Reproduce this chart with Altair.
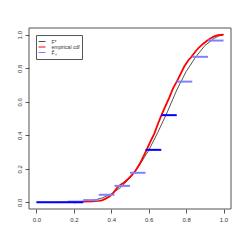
import altair as alt
import pandas as pd

# F* (smooth reference cdf)
fstar_x = [0.0, 0.1, 0.2, 0.25, 0.3, 0.35, 0.4, 0.45, 0.5, 0.55, 0.6, 0.65, 0.7, 0.75, 0.8, 0.85, 0.9, 0.95, 0.975, 1.0]
fstar_y = [0.0, 0.0, 0.001, 0.004, 0.011, 0.025, 0.05, 0.088, 0.145, 0.22, 0.31, 0.42, 0.54, 0.67, 0.78, 0.865, 0.935, 0.978, 0.992, 1.0]

# empirical cdf (red)
ecdf_x = [0.2, 0.25, 0.3, 0.33, 0.35, 0.37, 0.39, 0.41, 0.43, 0.45, 0.47, 0.49, 0.51, 0.53, 0.55, 0.57, 0.59,
          0.61, 0.63, 0.65, 0.67, 0.69, 0.71, 0.73, 0.75, 0.77, 0.79, 0.81, 0.83, 0.85, 0.87, 0.89, 0.91,
          0.93, 0.95, 0.97, 1.0]
ecdf_y = [0.0, 0.004, 0.006, 0.008, 0.012, 0.022, 0.035, 0.055, 0.085, 0.105, 0.12, 0.14, 0.162, 0.19, 0.225, 0.27, 0.316,
          0.365, 0.41, 0.47, 0.525, 0.575, 0.625, 0.68, 0.72, 0.765, 0.81, 0.845, 0.87, 0.9, 0.925, 0.945, 0.962,
          0.978, 0.99, 0.997, 1.0]

# F-hat_n step segments
seg_start = [0.0, 0.167, 0.25, 0.333, 0.417, 0.5, 0.583, 0.667, 0.75, 0.833, 0.917]
seg_end = [0.25, 0.25, 0.333, 0.417, 0.5, 0.583, 0.667, 0.75, 0.833, 0.917, 1.0]
seg_y = [0.0, 0.004, 0.013, 0.045, 0.098, 0.176, 0.313, 0.52, 0.72, 0.868, 0.965]
seg_dark = [True, False, False, False, False, False, True, True, False, False, False]

legend_labels = ["F*", "empirical cdf", "F\u0302\u2099"]
legend_colors = ["#555555", "#ff0000", "#8080ff"]
ticks = [0.0, 0.2, 0.4, 0.6, 0.8, 1.0]

# plot frame (axis range edges) and legend box, in axis units
lo, hi = -0.04, 1.04
box_x = [0.0, 0.246]
box_y = [0.852, 0.995]

W, H = 202, 181

fstar = pd.DataFrame({"x": fstar_x, "y": fstar_y})
ecdf = pd.DataFrame({"x": ecdf_x, "y": ecdf_y})
segs = pd.DataFrame({"x": seg_start, "x2": seg_end, "y": seg_y, "dark": seg_dark})

frame_pts = pd.DataFrame({
    "g": ["frame"] * 5 + ["legend"] * 5,
    "o": [0, 1, 2, 3, 4] * 2,
    "x": [lo, hi, hi, lo, lo, box_x[0], box_x[1], box_x[1], box_x[0], box_x[0]],
    "y": [lo, lo, hi, hi, lo, box_y[0], box_y[0], box_y[1], box_y[1], box_y[0]],
})
legbg_df = pd.DataFrame({"x": [box_x[0]], "x2": [box_x[1]], "y": [box_y[0]], "y2": [box_y[1]]})

xs = alt.Scale(domain=[lo, hi], nice=False, zero=False)
ys = alt.Scale(domain=[lo, hi], nice=False, zero=False)
xaxis = alt.Axis(values=ticks, format=".1f", title=None, grid=False, domain=False,
                 tickSize=4, tickColor="#555555", tickWidth=1, labelFontSize=6, labelColor="#333333",
                 labelPadding=3, labelFont="Liberation Sans")
yaxis = alt.Axis(values=ticks, format=".1f", title=None, grid=False, domain=False,
                 tickSize=4, tickColor="#555555", tickWidth=1, labelFontSize=6, labelColor="#333333",
                 labelPadding=3, labelAngle=270, labelAlign="center", labelBaseline="bottom",
                 labelFont="Liberation Sans")

X = lambda: alt.X("x:Q", scale=xs, axis=xaxis)
Y = lambda: alt.Y("y:Q", scale=ys, axis=yaxis)

l1 = alt.Chart(fstar).mark_line(strokeWidth=1, color=legend_colors[0]).encode(x=X(), y=Y())
l2 = alt.Chart(ecdf).mark_line(strokeWidth=1.8, color=legend_colors[1]).encode(x=X(), y=Y())
l3 = alt.Chart(segs).transform_filter("!datum.dark").mark_rule(strokeWidth=2, color=legend_colors[2]).encode(
    x=X(), x2="x2:Q", y=Y())
l4 = alt.Chart(segs).transform_filter("datum.dark").mark_rule(strokeWidth=2, color="#0000ff").encode(
    x=X(), x2="x2:Q", y=Y())

legbg = alt.Chart(legbg_df).mark_rect(color="white").encode(x=X(), x2="x2:Q", y=Y(), y2="y2:Q")
frame = alt.Chart(frame_pts).mark_line(strokeWidth=1, color="#555555").encode(
    x=X(), y=Y(), detail="g:N", order="o:Q")

base = alt.Chart(pd.DataFrame({"k": [0]}))
leg_layers = [legbg, frame]
for i, (lab, col) in enumerate(zip(legend_labels, legend_colors)):
    yy = 13.5 + i * 5.5
    leg_layers.append(base.mark_rule(strokeWidth=1, color=col).encode(
        x=alt.value(9.5), x2=alt.value(16.5), y=alt.value(yy)))
    leg_layers.append(base.mark_text(text=lab, fontSize=5, font="Liberation Sans", color="#333333",
                                     align="left", baseline="middle").encode(
        x=alt.value(22.5), y=alt.value(yy)))

chart = alt.layer(l1, l2, l3, l4, *leg_layers).properties(
    width=W, height=H,
    autosize=alt.AutoSizeParams(type="none"),
    padding={"left": 21, "top": 20, "right": 6, "bottom": 28},
    background="white",
).configure_view(stroke=None)

chart.save("out.html", embed_options={"renderer": "svg", "actions": False})
